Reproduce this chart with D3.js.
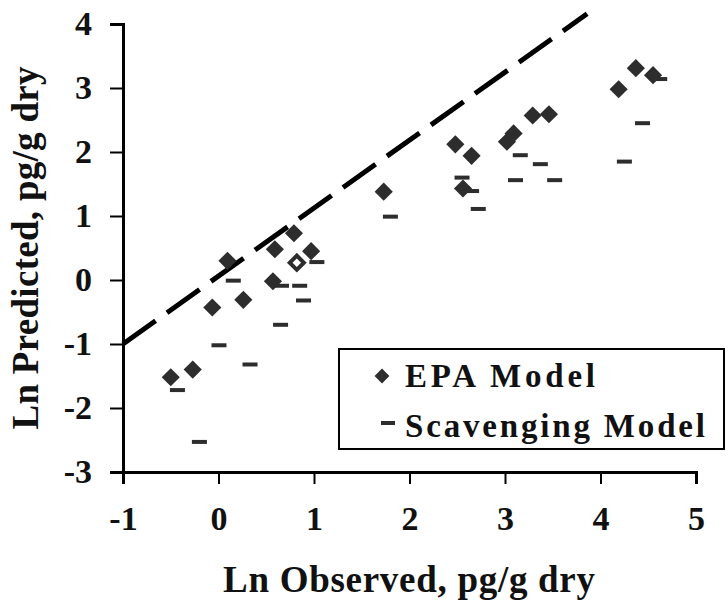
<!DOCTYPE html>
<html>
<head>
<meta charset="utf-8">
<title>ln-observed-vs-predicted</title>
<style>
  * { margin: 0; padding: 0; }
  body { background: #fff; }
</style>
</head>
<body>
<svg id="chart"></svg>
<script src="https://cdnjs.cloudflare.com/ajax/libs/d3/7.8.5/d3.min.js"></script>
<script>
// EPA model (filled diamonds)
const epaX = [-0.50, -0.27, -0.065, 0.094, 0.26, 0.57, 0.59, 0.79, 0.97, 1.73, 2.48, 2.56, 2.65, 3.02, 3.09, 3.29, 3.46, 4.19, 4.37, 4.55];
const epaY = [-1.52, -1.40, -0.43, 0.30, -0.31, -0.02, 0.48, 0.73, 0.45, 1.38, 2.12, 1.43, 1.94, 2.16, 2.29, 2.57, 2.59, 2.98, 3.31, 3.20];
// one open diamond
const openX = [0.82];
const openY = [0.27];
// Scavenging model (dashes)
const scavX = [-0.43, -0.20, 0.005, 0.155, 0.33, 0.65, 0.66, 0.85, 0.89, 1.03, 1.80, 2.55, 2.65, 2.72, 3.11, 3.16, 3.37, 3.52, 4.25, 4.44, 4.62];
const scavY = [-1.72, -2.53, -1.02, -0.01, -1.32, -0.70, -0.09, -0.09, -0.32, 0.28, 0.99, 1.60, 1.39, 1.11, 1.56, 1.95, 1.81, 1.56, 1.85, 2.45, 3.14];
// dashed reference line endpoints
const refX = [-1, 3.86];
const refY = [-1.0, 4.16];

const xTicks = [-1, 0, 1, 2, 3, 4, 5];
const yTicks = [-3, -2, -1, 0, 1, 2, 3, 4];

const width = 726, height = 608;
const font = '"Liberation Serif", "Times New Roman", serif';
const svg = d3.select('#chart').attr('width', width).attr('height', height);

const x = d3.scaleLinear().domain([-1, 5]).range([123, 696]);
const y = d3.scaleLinear().domain([-3, 4]).range([472, 24]);

const ink = '#2d2d2d';

// axes (plain hyphen for negatives, like the original)
const fmt = d => String(d);
const xAxis = svg.append('g')
  .attr('transform', `translate(0,${y(-3)})`)
  .call(d3.axisBottom(x).tickValues(xTicks).tickSize(12).tickFormat(fmt));
xAxis.selectAll('text').attr('y', 58).attr('dy', 0);

const yAxis = svg.append('g')
  .attr('transform', `translate(${x(-1)},0)`)
  .call(d3.axisLeft(y).tickValues(yTicks).tickSize(13).tickPadding(18).tickFormat(fmt));

svg.selectAll('.domain').attr('stroke', '#000').attr('stroke-width', 3);
svg.selectAll('.tick line').attr('stroke', '#000').attr('stroke-width', 2);
svg.selectAll('.tick text')
  .attr('fill', '#111')
  .style('font-family', font)
  .style('font-weight', 'bold')
  .style('font-size', '34px');

// dashed line
svg.append('path')
  .datum(refX.map((v, i) => [v, refY[i]]))
  .attr('d', d3.line().x(d => x(d[0])).y(d => y(d[1])))
  .attr('fill', 'none')
  .attr('stroke', '#000')
  .attr('stroke-width', 5)
  .attr('stroke-dasharray', '40 14');

// scavenging dashes
svg.append('g').selectAll('rect')
  .data(scavX.map((v, i) => [v, scavY[i]]))
  .enter().append('rect')
  .attr('x', d => x(d[0]) - 7.5)
  .attr('y', d => y(d[1]) - 2)
  .attr('width', 15)
  .attr('height', 4)
  .attr('fill', ink);

// EPA diamonds
const diamond = d3.symbol(d3.symbolSquare, 165);
svg.append('g').selectAll('path')
  .data(epaX.map((v, i) => [v, epaY[i]]))
  .enter().append('path')
  .attr('d', diamond)
  .attr('transform', d => `translate(${x(d[0])},${y(d[1])}) rotate(45)`)
  .attr('fill', ink);

svg.append('g').selectAll('path')
  .data(openX.map((v, i) => [v, openY[i]]))
  .enter().append('path')
  .attr('d', d3.symbol(d3.symbolSquare, 100))
  .attr('transform', d => `translate(${x(d[0])},${y(d[1])}) rotate(45)`)
  .attr('fill', '#fff')
  .attr('stroke', ink)
  .attr('stroke-width', 4);

// legend
const legend = svg.append('g');
legend.append('rect')
  .attr('x', 339).attr('y', 349).attr('width', 385).attr('height', 100)
  .attr('fill', '#fff').attr('stroke', '#000').attr('stroke-width', 2);
legend.append('path')
  .attr('d', d3.symbol(d3.symbolSquare, 110))
  .attr('transform', 'translate(382,376) rotate(45)')
  .attr('fill', ink);
legend.append('rect')
  .attr('x', 381).attr('y', 421).attr('width', 14).attr('height', 4)
  .attr('fill', ink);

function label(sel) {
  return sel.style('font-family', font).style('font-weight', 'bold').attr('fill', '#111');
}

legend.append('text')
  .attr('x', 405).attr('y', 387)
  .attr('textLength', 190)
  .style('font-size', '33px')
  .call(label)
  .text('EPA Model');
legend.append('text')
  .attr('x', 405).attr('y', 437)
  .attr('textLength', 300)
  .style('font-size', '33px')
  .call(label)
  .text('Scavenging Model');

// axis titles
svg.append('text')
  .attr('x', 409).attr('y', 592)
  .attr('text-anchor', 'middle')
  .attr('textLength', 372)
  .style('font-size', '37px')
  .call(label)
  .text('Ln Observed, pg/g dry');

svg.append('text')
  .attr('transform', 'translate(38,248) rotate(-90)')
  .attr('text-anchor', 'middle')
  .attr('textLength', 363)
  .style('font-size', '37px')
  .call(label)
  .text('Ln Predicted, pg/g dry');
</script>
</body>
</html>
